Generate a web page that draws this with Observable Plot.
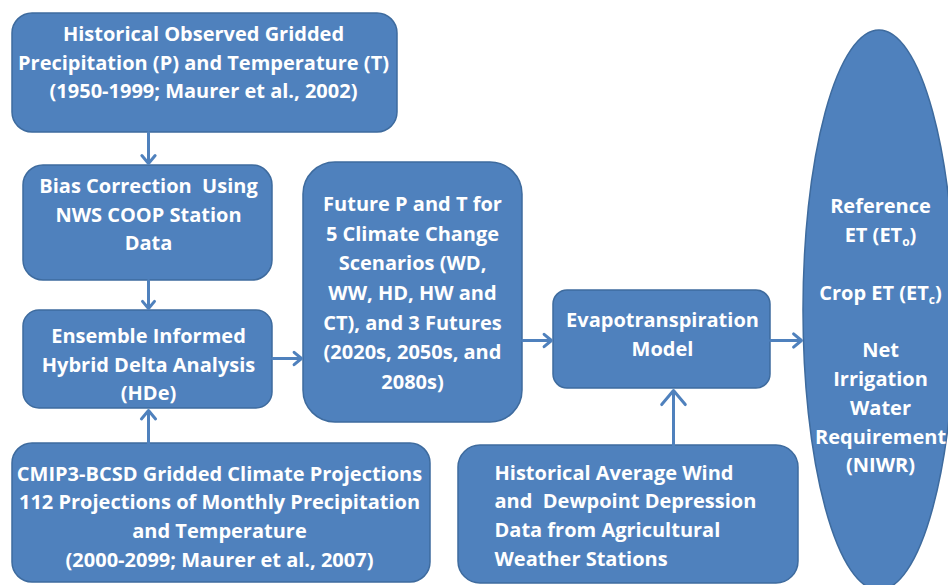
<!DOCTYPE html>
<html>
<head>
<meta charset="utf-8">
<script src="https://cdn.jsdelivr.net/npm/d3@7"></script>
<script src="https://cdn.jsdelivr.net/npm/@observablehq/plot@0.6"></script>
<style>
  html, body { margin: 0; padding: 0; background: #fff; }
  #chart svg { display: block; }
</style>
</head>
<body>
<div id="chart"></div>
<script>
// ---- Content (labels of the flowchart nodes) ----
const nodeIds = ["hist", "bias", "hde", "future", "cmip", "et", "wind", "out"];
const nodeLabels = [
  "Historical Observed Gridded\nPrecipitation (P) and Temperature (T)\n(1950-1999; Maurer et al., 2002)",
  "Bias Correction  Using\nNWS COOP Station\nData",
  "Ensemble Informed\nHybrid Delta Analysis\n(HDe)",
  "Future P and T for\n5 Climate Change\nScenarios (WD,\nWW, HD, HW and\nCT), and 3 Futures\n(2020s, 2050s, and\n2080s)",
  "CMIP3-BCSD Gridded Climate Projections\n112 Projections of Monthly Precipitation\nand Temperature\n(2000-2099; Maurer et al., 2007)",
  "Evapotranspiration\nModel",
  "Historical Average Wind\nand  Dewpoint Depression\nData from Agricultural\nWeather Stations",
  "Reference\nET (ET_o)\n\nCrop ET (ET_c)\n\nNet\nIrrigation\nWater\nRequirement\n(NIWR)"
];
const edgeFrom = ["hist", "bias", "cmip", "hde", "future", "wind", "et"];
const edgeTo   = ["bias", "hde", "hde", "future", "et", "et", "out"];

// ---- Layout (positions/sizes, kept separate from the content) ----
const layout = {
  hist:   {x1: 12,  y1: 13,  x2: 397, y2: 132, r: 20, tx: 203, ty: 60,  fs: 20, lh: 1.43, anchor: "middle"},
  bias:   {x1: 23,  y1: 165, x2: 272, y2: 280, r: 20, tx: 148, ty: 212, fs: 20, lh: 1.43, anchor: "middle"},
  hde:    {x1: 23,  y1: 310, x2: 272, y2: 408, r: 16, tx: 148, ty: 362, fs: 20, lh: 1.43, anchor: "middle"},
  future: {x1: 303, y1: 162, x2: 522, y2: 422, r: 32, tx: 412, ty: 290, fs: 20, lh: 1.48, anchor: "middle"},
  cmip:   {x1: 12,  y1: 443, x2: 430, y2: 582, r: 20, tx: 219, ty: 514, fs: 20, lh: 1.43, anchor: "middle"},
  et:     {x1: 553, y1: 290, x2: 770, y2: 388, r: 14, tx: 662, ty: 332, fs: 20, lh: 1.43, anchor: "middle"},
  wind:   {x1: 458, y1: 445, x2: 798, y2: 583, r: 22, tx: 494, ty: 513, fs: 20, lh: 1.43, anchor: "start"},
  out:    {x1: 803, y1: 30,  x2: 955, y2: 590, r: 76, tx: 880, ty: 333, fs: 20, lh: 1.44, anchor: "middle"}
};
const arrowPts = {
  "hist-bias":  [148, 132, 148, 163],
  "bias-hde":   [148, 280, 148, 308],
  "cmip-hde":   [148, 443, 148, 410],
  "hde-future": [272, 358, 301, 358],
  "future-et":  [522, 340, 551, 340],
  "wind-et":    [673, 445, 673, 390],
  "et-out":     [770, 340, 801, 340]
};

const nodes = nodeIds.map((id, i) => ({id, label: nodeLabels[i], ...layout[id]}));
const edges = edgeFrom.map((f, i) => {
  const [x1, y1, x2, y2] = arrowPts[f + "-" + edgeTo[i]];
  return {from: f, to: edgeTo[i], x1, y1, x2, y2};
});

const FILL = "#4F81BD";
const BORDER = "#3E6B9E";
const FONT = "'Open Sans', Lato, sans-serif";

const boxes = nodes.filter(d => d.id !== "out");
const ellipse = nodes.filter(d => d.id === "out");

const textMarks = nodes.map(d => Plot.text([d], {
  x: "tx", y: "ty", text: "label",
  fill: "white", fontSize: d.fs, fontWeight: "bold",
  lineHeight: d.lh, textAnchor: d.anchor, fontFamily: FONT
}));

const chart = Plot.plot({
  width: 948,
  height: 585,
  margin: 0,
  x: {domain: [0, 948], axis: null},
  y: {domain: [0, 585], reverse: true, axis: null},
  style: {background: "white", fontFamily: FONT},
  marks: [
    ...boxes.map(d => Plot.rect([d], {x1: "x1", x2: "x2", y1: "y1", y2: "y2",
      fill: FILL, stroke: BORDER, strokeWidth: 1.5, rx: d.r, ry: d.r})),
    Plot.rect(ellipse, {x1: "x1", x2: "x2", y1: "y1", y2: "y2",
      fill: FILL, stroke: BORDER, strokeWidth: 1.5, rx: 76, ry: 280}),
    Plot.arrow(edges, {x1: "x1", y1: "y1", x2: "x2", y2: "y2",
      stroke: FILL, strokeWidth: 3, headLength: 13, headAngle: 80, insetEnd: 0, insetStart: 0}),
    ...textMarks
  ]
});

// Subscripts for ET_o and ET_c
d3.select(chart).selectAll("tspan").each(function() {
  const t = this.textContent;
  const m = t.match(/^(.*ET)_([oc])(\).*)$/);
  if (m) {
    const el = d3.select(this);
    el.text(null);
    el.append("tspan").text(m[1]);
    el.append("tspan").attr("font-size", "12").attr("dy", "4").text(m[2]);
    el.append("tspan").attr("dy", "-4").text(m[3]);
  }
});

document.getElementById("chart").appendChild(chart);
</script>
</body>
</html>
